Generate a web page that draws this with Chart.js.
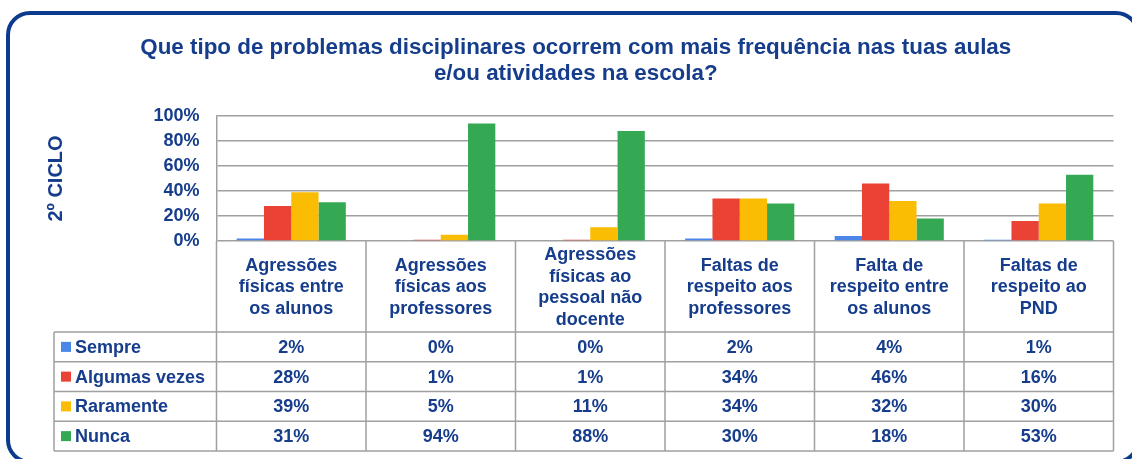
<!DOCTYPE html>
<html>
<head>
<meta charset="utf-8">
<script src="https://cdn.jsdelivr.net/npm/chart.js@4/dist/chart.umd.min.js"></script>
<style>
    body { margin: 0; background: #fff; }
    #wrap { position: relative; width: 1132px; height: 459px; overflow: hidden; }
    #frame {
        position: absolute; left: 6px; top: 11px; width: 1134px; height: 453px;
        border: 4px solid #0c3b8e; border-radius: 24px; box-sizing: border-box;
    }
    canvas { position: absolute; left: 0; top: 0; }
</style>
</head>
<body>
<div id="wrap">
    <div id="frame"></div>
    <canvas id="chart" width="1132" height="459"></canvas>
</div>
<script>
// Data
const categories = [
    ['Agressões', 'físicas entre', 'os alunos'],
    ['Agressões', 'físicas aos', 'professores'],
    ['Agressões', 'físicas ao', 'pessoal não', 'docente'],
    ['Faltas de', 'respeito aos', 'professores'],
    ['Falta de', 'respeito entre', 'os alunos'],
    ['Faltas de', 'respeito ao', 'PND']
];
const sempre = [2, 0, 0, 2, 4, 1];
const algumasVezes = [28, 1, 1, 34, 46, 16];
const raramente = [39, 5, 11, 34, 32, 30];
const nunca = [31, 94, 88, 30, 18, 53];
const yTicks = [0, 20, 40, 60, 80, 100];

const textColor = '#163d8c';
const lineColor = '#a0a0a0';
const fontFamily = '"Liberation Sans", Arial, sans-serif';

// Draws the data table (category header + values) under the plot, using the x scale
const dataTablePlugin = {
    id: 'dataTable',
    afterDraw(chart) {
        const ctx = chart.ctx;
        const x = chart.scales.x;
        const area = chart.chartArea;
        const n = categories.length;
        const catWidth = (area.right - area.left) / n;
        const headerBottom = 332;
        const rowHeight = 29.75;
        const tableLeft = 54;
        const sets = chart.data.datasets;
        const tableBottom = headerBottom + rowHeight * sets.length;

        ctx.save();
        ctx.strokeStyle = lineColor;
        ctx.lineWidth = 1.5;

        // vertical lines
        ctx.beginPath();
        for (let i = 0; i <= n; i++) {
            const px = area.left + catWidth * i;
            ctx.moveTo(px, area.bottom);
            ctx.lineTo(px, tableBottom);
        }
        ctx.moveTo(tableLeft, headerBottom);
        ctx.lineTo(tableLeft, tableBottom);
        // horizontal lines
        for (let r = 0; r <= sets.length; r++) {
            const py = headerBottom + rowHeight * r;
            ctx.moveTo(tableLeft, py);
            ctx.lineTo(area.right, py);
        }
        ctx.stroke();

        ctx.fillStyle = textColor;
        ctx.font = 'bold 18px ' + fontFamily;
        ctx.textAlign = 'center';
        ctx.textBaseline = 'middle';

        // category header
        const headerMid = (area.bottom + headerBottom) / 2 + 1;
        categories.forEach((lines, i) => {
            const cx = x.getPixelForValue(i);
            const lh = 21.5;
            const startY = headerMid - (lines.length - 1) * lh / 2;
            lines.forEach((line, j) => ctx.fillText(line, cx, startY + j * lh));
        });

        // rows: legend key + values
        sets.forEach((ds, r) => {
            const cy = headerBottom + rowHeight * r + rowHeight / 2;
            ctx.fillStyle = ds.backgroundColor;
            ctx.fillRect(61, cy - 5, 10, 10);
            ctx.fillStyle = textColor;
            ctx.textAlign = 'left';
            ctx.fillText(ds.label, 75, cy + 1);
            ctx.textAlign = 'center';
            ds.data.forEach((v, i) => {
                ctx.fillText(v + '%', x.getPixelForValue(i), cy + 1);
            });
        });
        ctx.restore();
    }
};

const ctx = document.getElementById('chart').getContext('2d');
const chart = new Chart(ctx, {
    type: 'bar',
    data: {
        labels: categories.map(c => c.join(' ')),
        datasets: [
            { label: 'Sempre', data: sempre, backgroundColor: '#4a86e8' },
            { label: 'Algumas vezes', data: algumasVezes, backgroundColor: '#ea4335' },
            { label: 'Raramente', data: raramente, backgroundColor: '#fbbc04' },
            { label: 'Nunca', data: nunca, backgroundColor: '#34a853' }
        ]
    },
    options: {
        responsive: false,
        animation: false,
        datasets: {
            bar: {
                categoryPercentage: 0.73,
                barPercentage: 1.0
            }
        },
        layout: {
            padding: { left: 38, right: 18.5, top: 0, bottom: 218 }
        },
        scales: {
            x: {
                display: false
            },
            y: {
                min: 0,
                max: 100,
                afterFit: function(scale) {
                    scale.width = 178.5;
                },
                afterBuildTicks: function(scale) {
                    scale.ticks = yTicks.map(v => ({ value: v }));
                },
                ticks: {
                    padding: 17,
                    color: textColor,
                    font: { family: fontFamily, size: 18, weight: 'bold' },
                    callback: function(value) {
                        return value + '%';
                    }
                },
                grid: {
                    color: lineColor,
                    lineWidth: 1.5,
                    drawTicks: false
                },
                border: {
                    display: true,
                    color: lineColor,
                    width: 1.5
                },
                title: {
                    display: true,
                    text: '2º CICLO',
                    color: textColor,
                    font: { family: fontFamily, size: 20, weight: 'bold' },
                    padding: { top: 6, bottom: 0 }
                }
            }
        },
        plugins: {
            legend: { display: false },
            tooltip: { enabled: false },
            title: {
                display: true,
                text: [
                    'Que tipo de problemas disciplinares ocorrem com mais frequência nas tuas aulas',
                    'e/ou atividades na escola?'
                ],
                color: textColor,
                font: { family: fontFamily, size: 22.4, weight: 'bold', lineHeight: 1.2 },
                padding: { top: 34, bottom: 28.2 }
            }
        }
    },
    plugins: [dataTablePlugin]
});
</script>
</body>
</html>
